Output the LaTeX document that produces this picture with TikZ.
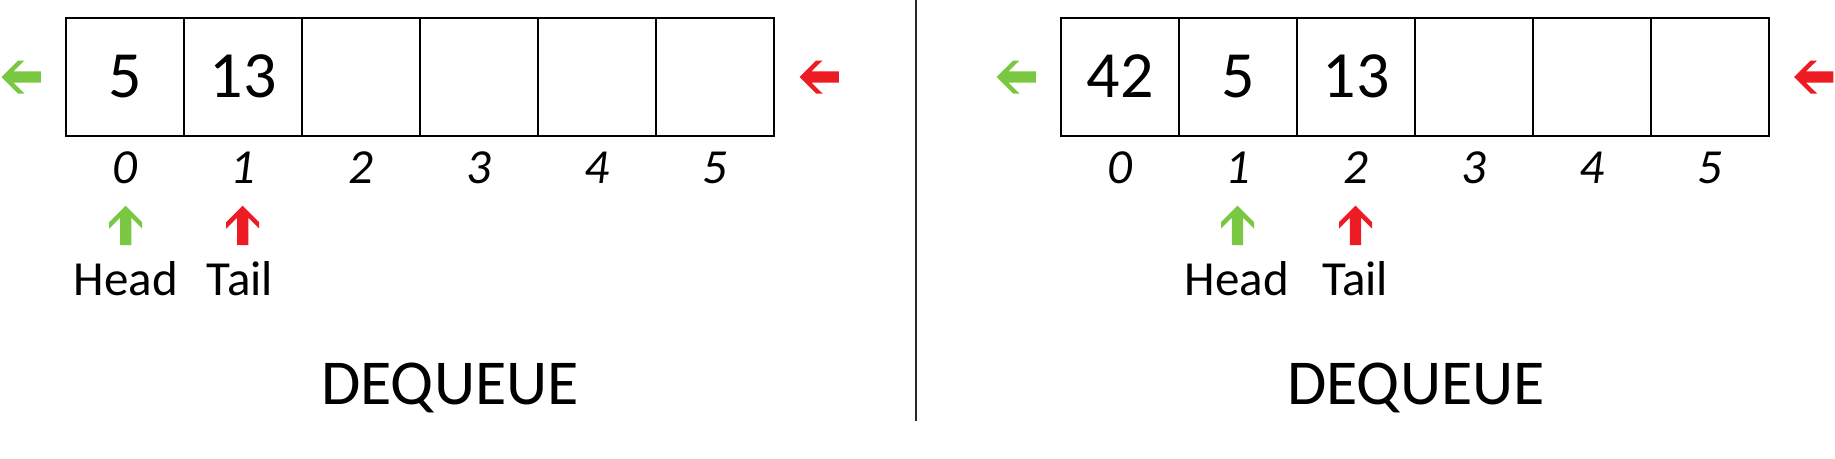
\documentclass[tikz,border=0pt]{standalone}
\usepackage{fontspec}
\setmainfont{Carlito}
\definecolor{agreen}{RGB}{122,200,66}
\definecolor{ared}{RGB}{237,28,36}
\definecolor{divgray}{RGB}{40,40,40}
\tikzset{
  cellbox/.style={draw=black, line width=1.6pt, minimum width=118pt, minimum height=118pt, inner sep=0pt, outer sep=0pt},
  valtext/.style={anchor=base, inner sep=0pt, font=\fontsize{66}{70}\selectfont},
  idxtext/.style={anchor=base, inner sep=0pt, font=\fontsize{49}{55}\selectfont\itshape},
  ptrtext/.style={anchor=base, inner sep=0pt, font=\fontsize{49}{55}\selectfont},
  titletext/.style={anchor=base, inner sep=0pt, font=\fontsize{64}{70}\selectfont},
  arw/.pic={\fill[pic actions] (0,0) -- (16.5,-16.5) -- (23,-16.5) -- (12,-5.6) -- (39.4,-5.6) -- (39.4,5.6) -- (12,5.6) -- (23,16.5) -- (16.5,16.5) -- cycle;}
}
\begin{document}
\begin{tikzpicture}[x=1pt,y=-1pt]
\useasboundingbox (0,0) rectangle (1835,458);
% ---------- left panel ----------
\foreach \i in {0,...,5}{
  \node[cellbox] (L\i) at ({125+118*\i},77) {};
  \node[idxtext] (Li\i) at ({125+118*\i},183) {\i};
}
\node[valtext] (Lv0) at (125,97) {5};
\node[valtext] (Lv1) at (243,97) {13};
\pic[fill=agreen] at (1.5,77) {arw};
\pic[fill=ared] at (799.5,77) {arw};
\pic[fill=agreen, rotate=-90] at (125.7,205.7) {arw};
\pic[fill=ared, rotate=-90] at (242.7,205.7) {arw};
\node[ptrtext] (Lh) at (126,295) {Head};
\node[ptrtext] (Lt) at (240,295) {Tail};
\node[titletext] (Ltitle) at (450,404) {DEQUEUE};
% ---------- divider ----------
\coordinate (dtop) at (916,0);
\coordinate (dbot) at (916,421);
\draw[divgray, line width=1.6pt] (dtop) -- (dbot);
% ---------- right panel ----------
\foreach \i in {0,...,5}{
  \node[cellbox] (R\i) at ({1120+118*\i},77) {};
  \node[idxtext] (Ri\i) at ({1120+118*\i},183) {\i};
}
\node[valtext] (Rv0) at (1120,97) {42};
\node[valtext] (Rv1) at (1238,97) {5};
\node[valtext] (Rv2) at (1356,97) {13};
\pic[fill=agreen] at (996.5,77) {arw};
\pic[fill=ared] at (1794,77) {arw};
\pic[fill=agreen, rotate=-90] at (1237.5,205.7) {arw};
\pic[fill=ared, rotate=-90] at (1355.5,205.7) {arw};
\node[ptrtext] (Rh) at (1237,295) {Head};
\node[ptrtext] (Rt) at (1355,295) {Tail};
\node[titletext] (Rtitle) at (1416,404) {DEQUEUE};
\end{tikzpicture}
\end{document}
